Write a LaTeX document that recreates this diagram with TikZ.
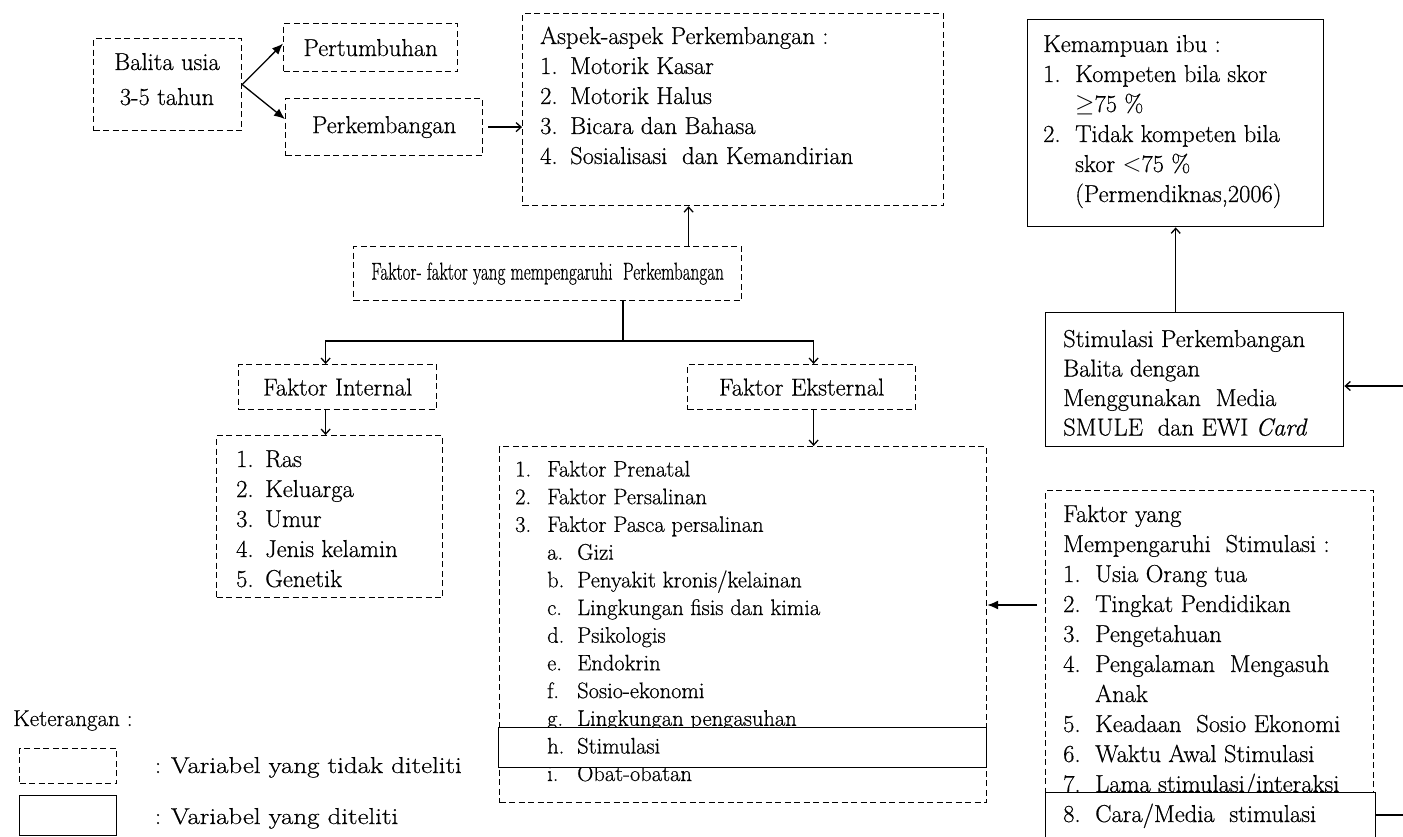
\documentclass[tikz,border=0pt]{standalone}
\usepackage{fontspec}
\setmainfont{Latin Modern Roman}[FakeBold=0.5]
\usepackage{graphicx}
\usetikzlibrary{arrows.meta,calc}
\newcommand\lsitem[3]{\makebox[#1][l]{#2}#3}
\begin{document}
\begin{tikzpicture}[x=1pt,y=-1pt,
  dbox/.style={draw, dash pattern=on 6pt off 3.5pt, line width=1.2pt, inner sep=0pt},
  sbox/.style={draw, line width=1.4pt, inner sep=0pt, fill=white},
  f25/.style={font=\fontsize{24.5}{30}\selectfont},
  f25s/.style={font=\fontsize{24.5}{29.5}\selectfont},
  f23/.style={font=\fontsize{22.5}{27.7}\selectfont},
  f22/.style={font=\fontsize{23}{26}\selectfont},
  lst/.style={inner sep=0pt, anchor=base west},
  conn/.style={line width=1.3pt},
  openarr/.style={conn, -{Straight Barb[length=5pt,width=9pt]}},
  solidarr/.style={conn, -{Latex[length=11pt,width=9pt]}},
]
\path[use as bounding box] (0,0) rectangle (1403,837);
\clip (0,0) rectangle (1403,837);

% top left
\node[dbox, anchor=north west, minimum width=148pt, minimum height=92pt] (balita) at (93,38) {};
\node[font=\fontsize{24.5}{35}\selectfont, align=center, inner sep=0pt, anchor=base] (balitaT) at (167,105) {Balita usia\\3-5 tahun};
\node[dbox, f25, anchor=north west, minimum width=174pt, minimum height=48pt] (pert) at (283,23) {Pertumbuhan};
\node[dbox, f25, anchor=north west, minimum width=197pt, minimum height=57pt] (perk) at (285,98) {Perkembangan};

% aspek
\node[dbox, anchor=north west, minimum width=421pt, minimum height=192pt] (aspek) at (522,13) {};
\node[lst, f25] (aspekT) at (540,44) {\begin{tabular}[t]{@{}l@{}}
Aspek-aspek Perkembangan :\\
\lsitem{30pt}{1.}{Motorik Kasar}\\
\lsitem{30pt}{2.}{Motorik Halus}\\
\lsitem{30pt}{3.}{Bicara dan Bahasa}\\
\lsitem{30pt}{4.}{Sosialisasi\ \ dan Kemandirian}
\end{tabular}};

% faktor-faktor
\node[dbox, anchor=north west, minimum width=388pt, minimum height=54pt] (faktor) at (353,246) {};
\node[f25, inner sep=0pt] (faktorT) at (faktor.center) {\scalebox{0.7}[1]{Faktor- faktor yang mempengaruhi\ \ Perkembangan}};
\node[dbox, f25, anchor=north west, minimum width=198pt, minimum height=45pt] (internal) at (238,364) {Faktor Internal};
\node[dbox, f25, anchor=north west, minimum width=228pt, minimum height=45pt] (eksternal) at (687,364) {Faktor Eksternal};

% internal list
\node[dbox, anchor=north west, minimum width=226pt, minimum height=162pt] (inlist) at (216,435) {};
\node[lst, f25] (inlistT) at (236,467) {\begin{tabular}[t]{@{}l@{}}
\lsitem{29pt}{1.}{Ras}\\
\lsitem{29pt}{2.}{Keluarga}\\
\lsitem{29pt}{3.}{Umur}\\
\lsitem{29pt}{4.}{Jenis kelamin}\\
\lsitem{29pt}{5.}{Genetik}
\end{tabular}};

% eksternal list
\node[dbox, anchor=north west, minimum width=487pt, minimum height=356pt] (exlist) at (499,446) {};
\node[lst, f23] (exlistT) at (515,476.5) {\begin{tabular}[t]{@{}l@{}}
\lsitem{32pt}{1.}{Faktor Prenatal}\\
\lsitem{32pt}{2.}{Faktor Persalinan}\\
\lsitem{32pt}{3.}{Faktor Pasca persalinan}\\
\hspace*{32pt}\lsitem{30pt}{a.}{Gizi}\\
\hspace*{32pt}\lsitem{30pt}{b.}{Penyakit kronis/kelainan}\\
\hspace*{32pt}\lsitem{30pt}{c.}{Lingkungan fisis dan kimia}\\
\hspace*{32pt}\lsitem{30pt}{d.}{Psikologis}\\
\hspace*{32pt}\lsitem{30pt}{e.}{Endokrin}\\
\hspace*{32pt}\lsitem{30pt}{f.}{Sosio-ekonomi}\\
\hspace*{32pt}\lsitem{30pt}{g.}{Lingkungan pengasuhan}
\end{tabular}};
\node[lst, f23] (exlistI) at (515,781) {\hspace*{32pt}\lsitem{30pt}{i.}{Obat-obatan}};
\node[sbox, anchor=north west, minimum width=488pt, minimum height=40pt] (stim) at (498,727) {};
\node[lst, f23] (stimT) at (515,753.5) {\hspace*{32pt}\lsitem{30pt}{h.}{Stimulasi}};

% kemampuan ibu
\node[sbox, anchor=north west, minimum width=296pt, minimum height=207pt] (kemampuan) at (1027,19) {};
\node[lst, f25] (kemT) at (1043,52) {\begin{tabular}[t]{@{}l@{}}
Kemampuan ibu :\\
\lsitem{32pt}{1.}{Kompeten bila skor}\\
\hspace*{32pt}$\geq$75 \%\\
\lsitem{32pt}{2.}{Tidak kompeten bila}\\
\hspace*{32pt}skor $<$75 \%\\
\hspace*{32pt}(Permendiknas,2006)
\end{tabular}};

% stimulasi perkembangan
\node[sbox, anchor=north west, minimum width=298pt, minimum height=134pt] (stimP) at (1045,312) {};
\node[lst, f25s] (stimPT) at (1063,347) {\begin{tabular}[t]{@{}l@{}}
Stimulasi Perkembangan\\
Balita dengan\\
Menggunakan\ \ Media\\
SMULE\ \ dan EWI \textit{Card}
\end{tabular}};

% faktor yang mempengaruhi stimulasi
\node[dbox, anchor=north west, minimum width=328pt, minimum height=320pt] (fy) at (1045,490) {};
\node[lst, f25] (fyT) at (1063,522) {\begin{tabular}[t]{@{}l@{}}
Faktor yang\\
Mempengaruhi\ \ Stimulasi :\\
\lsitem{32pt}{1.}{Usia Orang tua}\\
\lsitem{32pt}{2.}{Tingkat Pendidikan}\\
\lsitem{32pt}{3.}{Pengetahuan}\\
\lsitem{32pt}{4.}{Pengalaman\ \ Mengasuh}\\
\hspace*{32pt}Anak\\
\lsitem{32pt}{5.}{Keadaan\ \ Sosio Ekonomi}\\
\lsitem{32pt}{6.}{Waktu Awal Stimulasi}\\
\lsitem{32pt}{7.}{Lama stimulasi/interaksi}
\end{tabular}};
\node[sbox, anchor=north west, minimum width=330pt, minimum height=70pt] (cara) at (1045,792) {};
\node[lst, f25] (caraT) at (1063,822) {\lsitem{32pt}{8.}{Cara/Media\ \ stimulasi}};

% legend
\node[lst, f22] (ket) at (13,726) {Keterangan :};
\node[dbox, anchor=north west, minimum width=97pt, minimum height=35pt] (legD) at (19,748) {};
\node[sbox, anchor=north west, minimum width=97pt, minimum height=40pt] (legS) at (19,795) {};
\node[lst, f22] (legDT) at (155,773) {:\hspace{10pt}\scalebox{1.17}[1]{Variabel yang tidak diteliti}};
\node[lst, f22] (legST) at (155,824) {:\hspace{10pt}\scalebox{1.17}[1]{Variabel yang diteliti}};

% connectors
\draw[solidarr] (balita.east) -- ([yshift=4pt]pert.west);
\draw[solidarr] (balita.east) -- ([yshift=8pt]perk.west);
\draw[openarr] ([xshift=5pt]perk.east) -- (perk.east -| aspek.west);
\draw[openarr] ([xshift=141pt]faktor.north) -- ([xshift=141pt]faktor.north |- aspek.south);
\coordinate (split) at (623,341);
\draw[conn] (split |- faktor.south) -- (split);
\draw[openarr] (split) -| ([xshift=-12pt]internal.north);
\draw[openarr] (split) -| ([xshift=12pt]eksternal.north);
\draw[openarr] ([xshift=-12pt]internal.south) -- ([xshift=-12pt]internal.south |- inlist.north);
\draw[openarr] ([xshift=12pt]eksternal.south) -- ([xshift=12pt]eksternal.south |- exlist.north);
\draw[openarr] ([xshift=-19pt]stimP.north) -- ([xshift=-19pt]stimP.north |- kemampuan.south);
\coordinate (edgeA) at (1403,386);
\draw[openarr] (edgeA) -- (edgeA -| stimP.east);
\coordinate (fyA) at (1037,605);
\draw[solidarr] (fyA) -- (fyA -| exlist.east);
\coordinate (edgeB) at (1403,815);
\draw[conn] (edgeB -| cara.east) -- (edgeB);
\end{tikzpicture}
\end{document}
